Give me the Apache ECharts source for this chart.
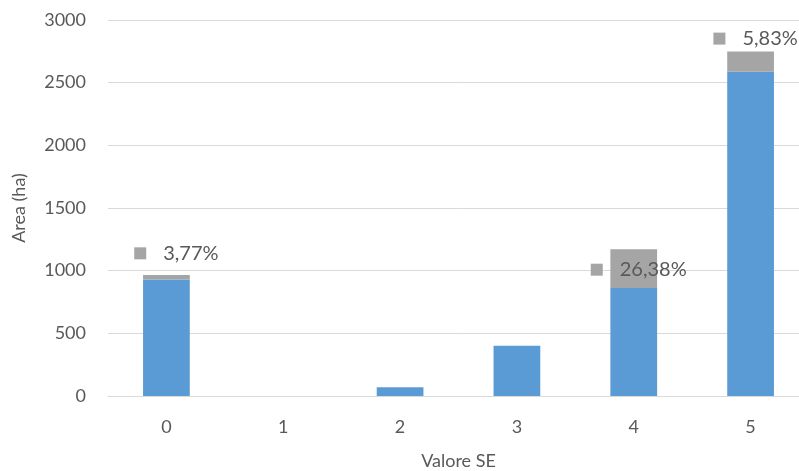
<!DOCTYPE html>
<html>
<head>
<meta charset="utf-8">
<script src="https://cdn.jsdelivr.net/npm/echarts@6/dist/echarts.min.js"></script>
<style>
  html, body { margin: 0; padding: 0; background: #fff; overflow: hidden; }
  /* the plot runs slightly past the right edge of the window */
  #chart { width: 810px; height: 471px; }
</style>
</head>
<body>
<div id="chart"></div>
<script>
// Valore SE classes on the x axis
const categories = ['0', '1', '2', '3', '4', '5'];
// Total area (ha) per class
const totalArea = [965, 0, 70, 400, 1170, 2748];
// Share of the total held by the grey part (%), null where no label is shown
const sharePct = [3.77, null, null, null, 26.38, 5.83];
// Y axis range
const yMin = 0, yMax = 3000, yStep = 500;

// Label placement tweaks (px), kept apart from the data
const labelOffsets = [[10, -24], [0, 0], [0, 0], [0, 0], [5, 1], [5, -23]];

const greyPart = totalArea.map((t, i) => sharePct[i] == null ? 0 : t * sharePct[i] / 100);
const bluePart = totalArea.map((t, i) => t - greyPart[i]);

const FONT = 'Lato';
const TXT = '#595959';

const chart = echarts.init(document.getElementById('chart'), null, { renderer: 'canvas' });
chart.setOption({
  animation: false,
  textStyle: { fontFamily: FONT, color: TXT },
  grid: { left: 108, right: 1, top: 20, bottom: 75, containLabel: false, outerBoundsMode: 'none' },
  xAxis: {
    type: 'category',
    data: categories,
    name: 'Valore SE',
    nameLocation: 'middle',
    nameGap: 56,
    nameTextStyle: { fontFamily: FONT, fontSize: 18, color: TXT },
    axisLine: { lineStyle: { color: '#d9d9d9', width: 1 } },
    axisTick: { show: false },
    axisLabel: { fontFamily: FONT, fontSize: 18, color: TXT, margin: 22 }
  },
  yAxis: {
    type: 'value',
    min: yMin, max: yMax, interval: yStep,
    name: 'Area (ha)',
    nameLocation: 'middle',
    nameGap: 80,
    nameTextStyle: { fontFamily: FONT, fontSize: 18, color: TXT },
    axisLine: { show: false },
    axisTick: { show: false },
    axisLabel: { fontFamily: FONT, fontSize: 18, color: TXT, margin: 22, formatter: v => String(v) },
    splitLine: { lineStyle: { color: '#d9d9d9', width: 1 } }
  },
  series: [
    {
      name: 'blue',
      type: 'bar',
      stack: 'area',
      barWidth: '40%',
      data: bluePart,
      itemStyle: { color: '#5b9bd5' }
    },
    {
      name: 'grey',
      type: 'bar',
      stack: 'area',
      barWidth: '40%',
      data: greyPart.map((v, i) => ({
        value: v,
        label: { offset: labelOffsets[i] }
      })),
      itemStyle: { color: '#a5a5a5' },
      label: {
        show: true,
        position: 'inside',
        formatter: p => {
          const s = sharePct[p.dataIndex];
          if (s == null) return '';
          return '{sq|}{t|' + s.toFixed(2).replace('.', ',') + '%}';
        },
        rich: {
          sq: { width: 12, height: 12, backgroundColor: '#a5a5a5' },
          t: { fontFamily: FONT, fontSize: 20, color: TXT, padding: [0, 0, 0, 17] }
        }
      }
    }
  ]
});
</script>
</body>
</html>
